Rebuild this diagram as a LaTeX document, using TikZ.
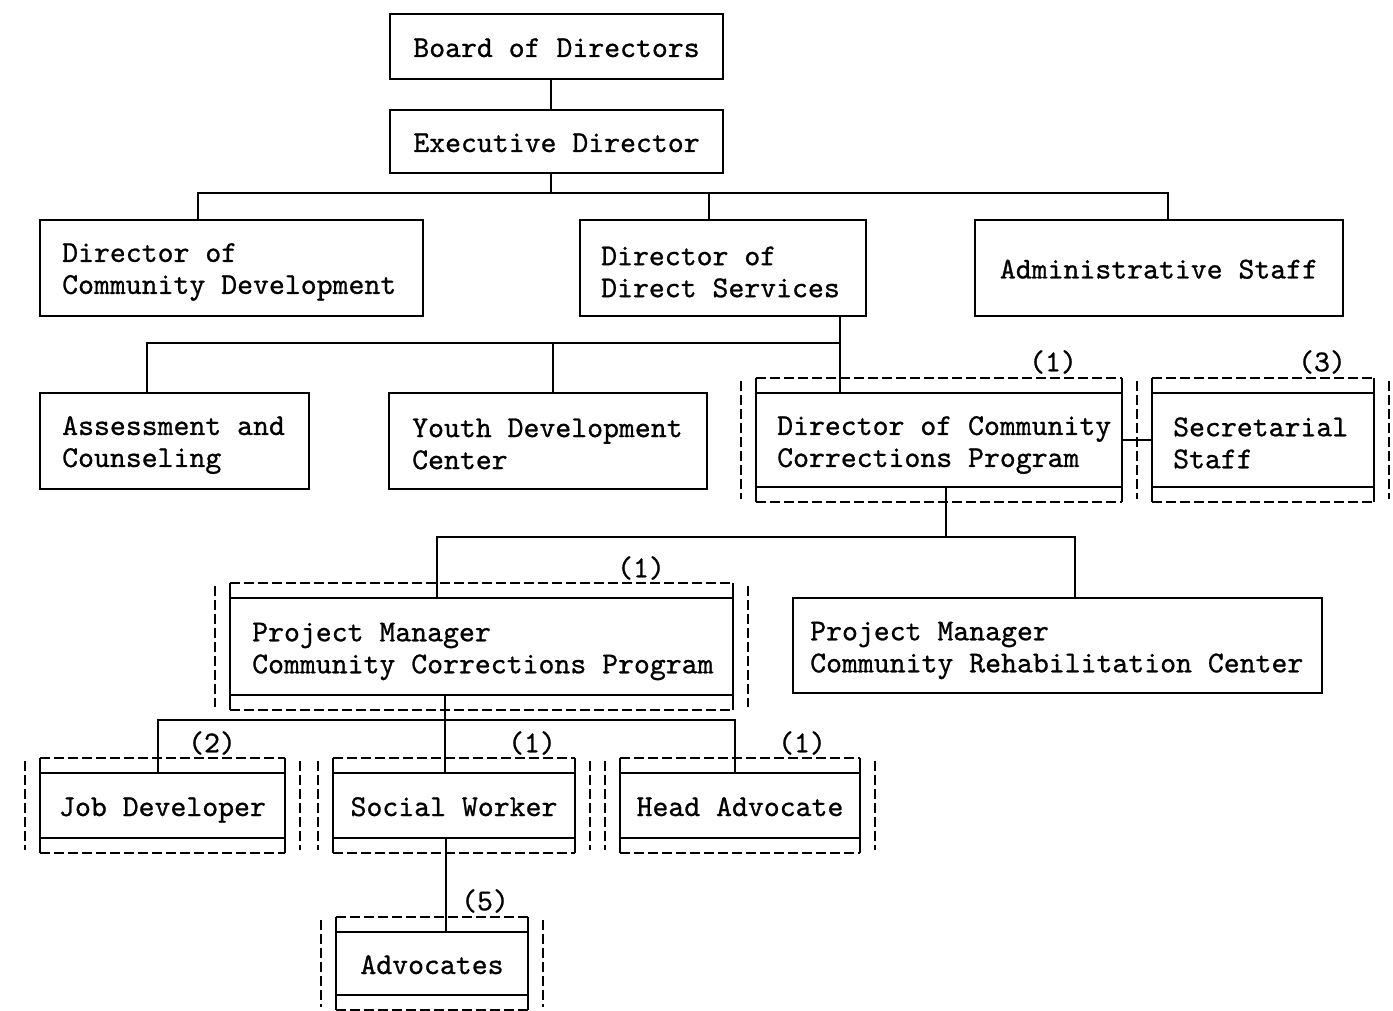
\documentclass[tikz,border=0pt]{standalone}
\usepackage{fontspec}
\newfontfamily\typew{lmmono10-regular.otf}[FakeBold=0.8]
\usetikzlibrary{calc}
\tikzset{
  every node/.style={font=\fontsize{30.3}{32}\selectfont\typew},
  org/.style={draw, rectangle, outer sep=0pt, line width=1.9pt, text height=25pt, text depth=4pt},
  txt/.style={inner sep=0pt, align=left, anchor=west},
  lbl/.style={inner sep=0pt},
  conn/.style={line width=1.9pt},
  dsh/.style={line width=1.7pt, dash pattern=on 10pt off 4pt},
}
\newcommand\dblframe[1]{%
  \draw[conn] ($(#1.north west)+(0,-15)$) -- ($(#1.south west)+(0,15)$);
  \draw[conn] ($(#1.north east)+(0,-15)$) -- ($(#1.south east)+(0,15)$);
  \draw[dsh] ($(#1.north west)+(0,-15)$) -- ($(#1.north east)+(0,-15)$);
  \draw[dsh] ($(#1.south west)+(0,15)$) -- ($(#1.south east)+(0,15)$);
  \draw[dsh] ($(#1.north west)+(-15,-12)$) -- ($(#1.south west)+(-15,12)$);
  \draw[dsh] ($(#1.north east)+(15,-12)$) -- ($(#1.south east)+(15,12)$);
}
\begin{document}
\begin{tikzpicture}[x=1pt,y=-1pt]
\useasboundingbox (0,0) rectangle (1393,1011);
\fill[white] (0,0) rectangle (1393,1011);

% --- boxes ---
\node[org, minimum width=333pt, minimum height=65pt] (board) at (556.5,46.5) {Board of Directors};
\node[org, minimum width=333pt, minimum height=63pt] (exec) at (556.5,141.5) {Executive Director};

\node[org, minimum width=383pt, minimum height=96pt] (dcd) at (231.5,268) {};
\node[txt] (dcdt) at ($(dcd.west)+(22,4)$) {Director of\\Community Development};
\node[org, minimum width=286pt, minimum height=96pt] (dds) at (723,268) {};
\node[txt] (ddst) at ($(dds.west)+(21,4)$) {Director of\\Direct Services};
\node[org, minimum width=368pt, minimum height=96pt] (admin) at (1159,268) {Administrative Staff};

\node[org, minimum width=269pt, minimum height=96pt] (assess) at (174.5,441) {};
\node[txt] (assesst) at ($(assess.west)+(22,4)$) {Assessment and\\Counseling};
\node[org, minimum width=318pt, minimum height=96pt] (youth) at (548,441) {};
\node[txt] (youtht) at ($(youth.west)+(23,3)$) {Youth Development\\Center};

\node[org, minimum width=366pt, minimum height=94pt] (ccp) at (939,440) {};
\node[txt] (ccpt) at ($(ccp.west)+(21,5)$) {Director of Community\\Corrections Program};
\node[org, minimum width=222pt, minimum height=94pt] (sec) at (1263,440) {};
\node[txt] (sect) at ($(sec.west)+(21,3)$) {Secretarial\\Staff};

\node[org, minimum width=503pt, minimum height=97pt] (pmccp) at (481.5,646.5) {};
\node[txt] (pmccpt) at ($(pmccp.west)+(22,5)$) {Project Manager\\Community Corrections Program};
\node[org, minimum width=529pt, minimum height=95pt] (pmcrc) at (1057.5,645.5) {};
\node[txt] (pmcrct) at ($(pmcrc.west)+(17,5)$) {Project Manager\\Community Rehabilitation Center};

\node[org, minimum width=245pt, minimum height=65pt] (jd) at (162.5,805.5) {Job Developer};
\node[org, minimum width=242pt, minimum height=65pt] (sw) at (454,805.5) {Social Worker};
\node[org, minimum width=240pt, minimum height=65pt] (ha) at (740,805.5) {Head Advocate};
\node[org, minimum width=192pt, minimum height=63pt] (adv) at (432,963.5) {Advocates};

\dblframe{ccp}
\dblframe{sec}
\dblframe{pmccp}
\dblframe{jd}
\dblframe{sw}
\dblframe{ha}
\dblframe{adv}

% --- count labels ---
\node[lbl] (l1) at (1053,362) {(1)};
\node[lbl] (l2) at (1322,362) {(3)};
\node[lbl] (l3) at (641,568) {(1)};
\node[lbl] (l4) at (212,743) {(2)};
\node[lbl] (l5) at (532,743) {(1)};
\node[lbl] (l6) at (802,743) {(1)};
\node[lbl] (l7) at (485,901) {(5)};

% --- connectors ---
\coordinate (c1) at (551,193);
\coordinate (c1l) at (198,193);
\coordinate (c1m) at (709,193);
\coordinate (c1r) at (1168,193);
\draw[conn] (board.south -| c1) -- (exec.north -| c1);
\draw[conn] (exec.south -| c1) -- (c1);
\draw[conn] (dcd.north -| c1l) -- (c1l) -- (c1r) -- (admin.north -| c1r);
\draw[conn] (c1m) -- (dds.north -| c1m);

\coordinate (c2l) at (147,343);
\coordinate (c2m) at (553,343);
\coordinate (c2r) at (840,343);
\draw[conn] (dds.south -| c2r) -- (ccp.north -| c2r);
\draw[conn] (assess.north -| c2l) -- (c2l) -- (c2r);
\draw[conn] (c2m) -- (youth.north -| c2m);

\draw[conn] (ccp.east) -- (sec.west);

\coordinate (c3) at (946,537);
\coordinate (c3l) at (437,537);
\coordinate (c3r) at (1075,537);
\draw[conn] (ccp.south -| c3) -- (c3);
\draw[conn] (pmccp.north -| c3l) -- (c3l) -- (c3r) -- (pmcrc.north -| c3r);

\coordinate (c4) at (445,720);
\coordinate (c4l) at (158,720);
\coordinate (c4r) at (735,720);
\draw[conn] (pmccp.south -| c4) -- (sw.north -| c4);
\draw[conn] (jd.north -| c4l) -- (c4l) -- (c4r) -- (ha.north -| c4r);

\coordinate (c5) at (446,900);
\draw[conn] (sw.south -| c5) -- (adv.north -| c5);
\end{tikzpicture}
\end{document}
